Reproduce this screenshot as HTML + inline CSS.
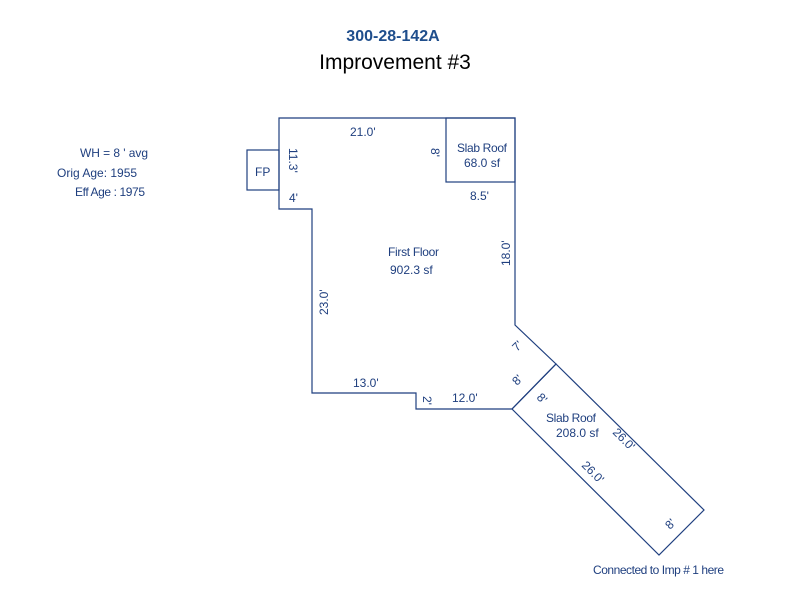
<!DOCTYPE html>
<html><head><style>
body{margin:0;background:#fff;width:800px;height:600px;overflow:hidden}
</style></head><body>
<svg width="800" height="600" xmlns="http://www.w3.org/2000/svg" font-family="Liberation Sans, sans-serif">
<text x="393" y="41" text-anchor="middle" font-size="16" font-weight="bold" fill="#1f4e8c">300-28-142A</text>
<text x="395" y="69" text-anchor="middle" font-size="21" fill="#000">Improvement #3</text>
<g fill="#1f3f7f" font-size="12">
<text x="80" y="157" textLength="68">WH =  8 ' avg</text>
<text x="57" y="177">Orig Age: 1955</text>
<text x="75" y="196" textLength="70">Eff Age : 1975</text>
</g>
<g fill="none" stroke="#1f3f7f" stroke-width="1.2">
<polygon points="279,118 515,118 515,325 556,364 512,409 416,409 416,393 312,393 312,209 279,209"/>
<rect x="446" y="118" width="69" height="64"/>
<rect x="247" y="150" width="32" height="40"/>
<polygon points="556,364 704,510 659,555 512,409"/>
</g>
<g fill="#1f3f7f" font-size="12">
<text x="350" y="136">21.0'</text>
<text x="255" y="176">FP</text>
<text x="289" y="202">4'</text>
<text x="457" y="152" textLength="50">Slab Roof</text>
<text x="464" y="167">68.0 sf</text>
<text x="470" y="200">8.5'</text>
<text x="388" y="256" textLength="51">First Floor</text>
<text x="390" y="274">902.3 sf</text>
<text x="353" y="387">13.0'</text>
<text x="452" y="402">12.0'</text>
<text x="546" y="422" textLength="50">Slab Roof</text>
<text x="556" y="437">208.0 sf</text>
<text x="593" y="574" textLength="131">Connected to Imp # 1 here</text>
<text transform="translate(289,148) rotate(90)">11.3'</text>
<text transform="translate(431,148) rotate(90)">8'</text>
<text transform="translate(510,266) rotate(-90)">18.0'</text>
<text transform="translate(328,315) rotate(-90)">23.0'</text>
<text transform="translate(423,396) rotate(90)">2'</text>
<text transform="translate(517,352) rotate(-45)">7'</text>
<text transform="translate(517,386) rotate(-45)">8'</text>
<text transform="translate(536,398) rotate(45)">8'</text>
<text transform="translate(612,433) rotate(45)">26.0'</text>
<text transform="translate(581,466) rotate(45)">26.0'</text>
<text transform="translate(670,530) rotate(-45)">8'</text>
</g>
</svg>
</body></html>
